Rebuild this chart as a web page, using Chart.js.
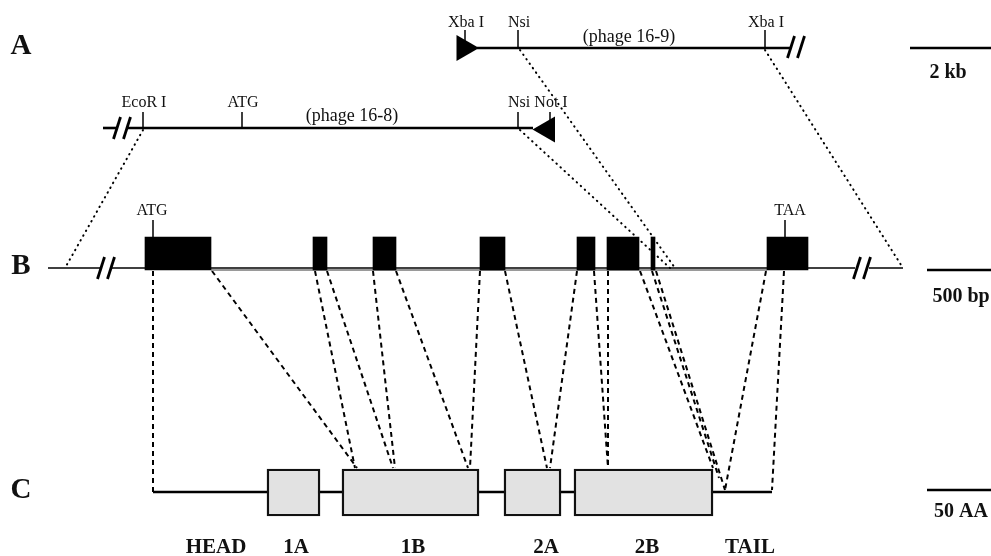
<!DOCTYPE html>
<html>
<head>
<meta charset="utf-8">
<script src="https://cdn.jsdelivr.net/npm/chart.js@4.4.1/dist/chart.umd.min.js"></script>
<style>
  html, body { margin: 0; padding: 0; background: #fff; }
  canvas { display: block; }
</style>
</head>
<body>
<canvas id="gene" width="991" height="556"></canvas>
<script>
/* diagram units: 1 unit = 1 px of the original figure */

/* ── ROW LEVELS ───────────────────────────────────────────── */
const Y_A1 = 48, Y_A2 = 128, Y_B = 268, Y_C = 492;
const EXON_TOP = 237, EXON_BOT = 270;
const BOX_TOP = 469, BOX_BOT = 516;

/* ── A: phage clones ──────────────────────────────────────── */
const phage169Line  = [[477, 790]];
const phage169Sites = [465, 518, 765];
const phage169Names = ['Xba I', 'Nsi', 'Xba I'];

const phage168Line  = [[103, 117], [128, 533]];
const phage168Sites = [143, 242, 518, 550];
const phage168Names = ['EcoR I', 'ATG', 'Nsi', 'Not I'];

const cloneEndX = [464, 547.5];       // vector arms (triangles)
const cloneEndY = [48, 129.5];
const cloneEndRot = [90, 270];

/* ── B: gene ──────────────────────────────────────────────── */
const geneLine   = [[48, 100], [112, 855], [869, 903]];
const intronBand = [[211, 767]];
const exonsB     = [[145, 211], [313, 327], [373, 396], [480, 505],
                    [577, 595], [607, 639], [651, 655], [767, 808]];
const codonX     = [153, 785];
const codonNames = ['ATG', 'TAA'];

/* ── C: protein ───────────────────────────────────────────── */
const proteinLine  = [[153, 772]];
const domainBoxes  = [[267, 320], [342, 479], [504, 561], [574, 713]];
const domainNames  = ['HEAD', '1A', '1B', '2A', '2B', 'TAIL'];
const domainLabelX = [216, 296, 413, 546, 647, 750];

/* ── mappings ─────────────────────────────────────────────── */
// A -> B (dotted)
const dotFromX = [143, 520, 520, 765];
const dotFromY = [130, 130, 50, 50];
const dotToX   = [65, 670, 675, 903];
// B -> C (dashed)
const dashFromX = [153, 212, 315, 327, 373, 396, 480, 505, 577, 594, 608, 640, 652, 656, 766, 784];
const dashToX   = [153, 357, 355, 393, 395, 468, 470, 547, 550, 608, 608, 713, 719, 725, 725, 772];
const dashToY   = [492, 468, 468, 468, 468, 468, 468, 468, 468, 468, 468, 468, 478, 490, 490, 490];

/* ── break marks "//" ─────────────────────────────────────── */
const breakX = [796, 122, 106, 862];
const breakY = [47, 128, 268, 268];

/* ── scale bars ───────────────────────────────────────────── */
const scaleNames = ['2 kb', '500 bp', '50 AA'];
const scaleBarX  = [910, 927, 927];
const scaleBarY  = [48, 270, 490];
const scaleLabelX = [948, 961, 961];
const scaleLabelY = [78, 302, 517];

/* ── helpers ──────────────────────────────────────────────── */
const SERIF = '"Liberation Serif", "DejaVu Serif", serif';

function seg(pts, width, dash, cap, color) {
  return {
    type: 'line',
    data: pts.map(p => ({ x: p[0], y: p[1] })),
    borderColor: color || '#000',
    borderWidth: width,
    borderDash: dash || [],
    borderCapStyle: cap || 'butt',
    pointRadius: 0,
    fill: false,
    tension: 0,
    order: 2,
  };
}

const datasets = [];

// exons and domains (drawn over the lines)
datasets.push({
  type: 'bar', indexAxis: 'y', yAxisID: 'y',
  data: exonsB.map(e => ({ x: e, y: (EXON_TOP + EXON_BOT) / 2 })),
  barThickness: EXON_BOT - EXON_TOP,
  backgroundColor: '#000', borderWidth: 0, order: 0,
});
datasets.push({
  type: 'bar', indexAxis: 'y', yAxisID: 'yC',
  data: domainBoxes.map(d => ({ x: d, y: (BOX_TOP + BOX_BOT) / 2 })),
  barThickness: BOX_BOT - BOX_TOP,
  backgroundColor: '#e2e2e2', borderColor: '#111', borderWidth: 2.4,
  borderSkipped: false, order: 0,
});

// vector arm triangles
datasets.push({
  type: 'line', showLine: false,
  data: cloneEndX.map((x, i) => ({ x, y: cloneEndY[i] })),
  pointStyle: 'triangle', pointRadius: 15, pointRotation: cloneEndRot,
  pointBackgroundColor: '#000', pointBorderColor: '#000', pointBorderWidth: 0,
  order: 1,
});

// row A
phage169Line.forEach(s => datasets.push(seg([[s[0], Y_A1], [s[1], Y_A1]], 2.6)));
phage169Sites.forEach(x => datasets.push(seg([[x, Y_A1 - 18], [x, Y_A1]], 1.5)));
phage168Line.forEach(s => datasets.push(seg([[s[0], Y_A2], [s[1], Y_A2]], 2.6)));
phage168Sites.forEach(x => datasets.push(seg([[x, Y_A2 - 16], [x, Y_A2]], 1.5)));

// row B
geneLine.forEach(s => datasets.push(seg([[s[0], Y_B], [s[1], Y_B]], 1.5)));
intronBand.forEach(s => datasets.push(seg([[s[0], Y_B + 2], [s[1], Y_B + 2]], 2.2, [], 'butt', '#9a9a9a')));
codonX.forEach(x => datasets.push(seg([[x, EXON_TOP - 17], [x, EXON_TOP]], 1.5)));

// row C
proteinLine.forEach(s => datasets.push(seg([[s[0], Y_C], [s[1], Y_C]], 2.4)));

// dotted A -> B
dotFromX.forEach((x, i) => datasets.push(seg([[x, dotFromY[i]], [dotToX[i], Y_B]], 2, [0.5, 5], 'round')));

// dashed B -> C
dashFromX.forEach((x, i) => datasets.push(seg([[x, Y_B + 3], [dashToX[i], dashToY[i]]], 2, [5, 4])));

// break marks
breakX.forEach((x, i) => {
  const y = breakY[i];
  [-5, 5].forEach(o => datasets.push(seg([[x + o + 3.5, y - 11], [x + o - 3.5, y + 11]], 2.8)));
});

// scale bars
scaleBarX.forEach((x, i) => datasets.push(seg([[x, scaleBarY[i]], [991, scaleBarY[i]]], 2.4)));

/* ── text items ───────────────────────────────────────────── */
const F_PANEL = 'bold 29px ' + SERIF;
const F_SITE  = '16px ' + SERIF;
const F_PHAGE = '18px ' + SERIF;
const F_SCALE = 'bold 20px ' + SERIF;
const F_DOM   = 'bold 21px ' + SERIF;

const textItems = [];
['A', 'B', 'C'].forEach((t, i) => textItems.push({ t, x: 21, y: [54, 274, 498][i], f: F_PANEL }));
phage169Names.forEach((t, i) => textItems.push({ t, x: phage169Sites[i] + 1, y: 27, f: F_SITE }));
textItems.push({ t: '(phage 16-9)', x: 629, y: 42, f: F_PHAGE });
phage168Names.forEach((t, i) => textItems.push({ t, x: phage168Sites[i] + 1, y: 107, f: F_SITE }));
textItems.push({ t: '(phage 16-8)', x: 352, y: 121, f: F_PHAGE });
codonNames.forEach((t, i) => textItems.push({ t, x: codonX[i] + (i ? 5 : -1), y: 215, f: F_SITE }));
scaleNames.forEach((t, i) => textItems.push({ t, x: scaleLabelX[i], y: scaleLabelY[i], f: F_SCALE }));
domainNames.forEach((t, i) => textItems.push({ t, x: domainLabelX[i], y: 553, f: F_DOM }));

const textPlugin = {
  id: 'diagramText',
  afterDatasetsDraw(chart) {
    const { ctx, scales } = chart;
    ctx.save();
    ctx.fillStyle = '#111';
    ctx.textAlign = 'center';
    ctx.textBaseline = 'alphabetic';
    textItems.forEach(it => {
      ctx.font = it.f;
      ctx.fillText(it.t, scales.x.getPixelForValue(it.x), scales.y.getPixelForValue(it.y));
    });
    ctx.restore();
  },
};

const hiddenAxis = (axis, rev) => ({
  type: 'linear', axis, min: 0, max: axis === 'x' ? 991 : 556, reverse: !!rev,
  display: false, offset: false, grid: { display: false, offset: false },
});

new Chart(document.getElementById('gene').getContext('2d'), {
  type: 'line',
  data: { datasets },
  options: {
    responsive: false,
    animation: false,
    events: [],
    devicePixelRatio: 1,
    layout: { padding: 0, autoPadding: false },
    plugins: { legend: { display: false }, tooltip: { enabled: false } },
    scales: {
      x:  hiddenAxis('x'),
      y:  hiddenAxis('y', true),
      yC: hiddenAxis('y', true),
    },
  },
  plugins: [textPlugin],
});
</script>
</body>
</html>
